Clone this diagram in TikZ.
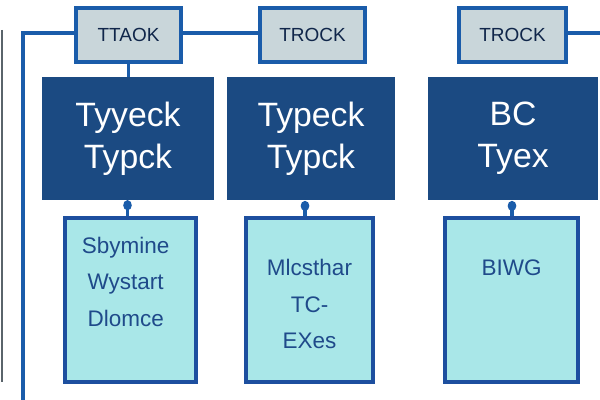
\documentclass[tikz,border=0pt]{standalone}
\usepackage{fontspec}
\setmainfont{Liberation Sans}
\usetikzlibrary{arrows.meta, positioning, shapes, calc}

\definecolor{linkblue}{HTML}{1A5CAA}
\definecolor{trackfill}{HTML}{C9D6DA}
\definecolor{trackink}{HTML}{10264A}
\definecolor{headfill}{HTML}{1B4A82}
\definecolor{bodyfill}{HTML}{A9E7E8}
\definecolor{bodyline}{HTML}{1D4F9F}
\definecolor{bodyink}{HTML}{1F4A8A}
\definecolor{railgray}{HTML}{5A646B}

\begin{document}
\begin{tikzpicture}[x=0.025cm, y=-0.025cm, >=Stealth, node distance=1cm]
    \tikzset{trackbox/.style={rectangle, draw=linkblue, fill=trackfill, line width=2.2pt, minimum height=1.35cm, text=trackink, font=\fontsize{13.5}{15}\selectfont, inner sep=0pt},
             headbox/.style={rectangle, fill=headfill, minimum height=3.075cm, text=white, align=center, font=\fontsize{24}{30}\selectfont, inner sep=0pt},
             bodybox/.style={rectangle, draw=bodyline, fill=bodyfill, line width=2.2pt, minimum height=4.1cm, inner sep=0pt},
             bodytext/.style={text=bodyink, align=center, font=\fontsize{16}{26}\selectfont, inner sep=0pt, anchor=north},
             link/.style={draw=linkblue, line width=2.4pt},
             drop/.style={link, {Circle[length=7pt, width=6pt]}-}}
    \useasboundingbox (0,0) rectangle (600,400);

    % rails on the left
    \coordinate (railtop) at (2,30);
    \coordinate (railend) at (2,382);
    \draw[railgray, line width=2pt] (railtop) -- (railend);
    \coordinate (corner) at (23,33);
    \coordinate (bottom) at (23,400);
    \coordinate (rightend) at (600,33);

    % track labels
    \node[trackbox, minimum width=2.625cm] (track1) at (128.5,35) {TTAOK};
    \node[trackbox, minimum width=2.625cm] (track2) at (312.5,35) {TROCK};
    \node[trackbox, minimum width=2.675cm] (track3) at (512.5,35) {TROCK};

    % heads
    \node[headbox, minimum width=4.3cm] (head1) at (128,138.5) {Tyyeck\\Typck};
    \node[headbox, minimum width=4.175cm] (head2) at (311,138.5) {Typeck\\Typck};
    \node[headbox, minimum width=4.25cm] (head3) at (513,138.5) {BC\\Tyex};

    % bodies
    \node[bodybox, minimum width=3.275cm] (body1) at (130.5,300) {};
    \node[bodybox, minimum width=3.175cm] (body2) at (309.5,300) {};
    \node[bodybox, minimum width=3.325cm] (body3) at (511.5,300) {};
    \node[bodytext, below=0.5cm of body1.north, xshift=-0.12cm] (text1) {Sbymine\\Wystart\\Dlomce};
    \node[bodytext, below=1.07cm of body2.north] (text2) {Mlcsthar\\TC-\\EXes};
    \node[bodytext, below=1.07cm of body3.north] (text3) {BIWG};

    % connectors
    \draw[link] (bottom) -- (corner) -- (corner -| track1.west);
    \draw[link] (track1.east |- corner) -- (track2.west |- corner);
    \draw[link] (track3.east |- corner) -- (rightend);
    \draw[link] (track1.south) -- (track1.south |- head1.north);
    \draw[drop] (head1.south -| body1.north) ++(-3,0) coordinate (d1) -- (d1 |- body1.north);
    \draw[drop] (305,201) coordinate (d2) -- (d2 |- body2.north);
    \draw[drop] (512,201) coordinate (d3) -- (d3 |- body3.north);
\end{tikzpicture}
\end{document}
